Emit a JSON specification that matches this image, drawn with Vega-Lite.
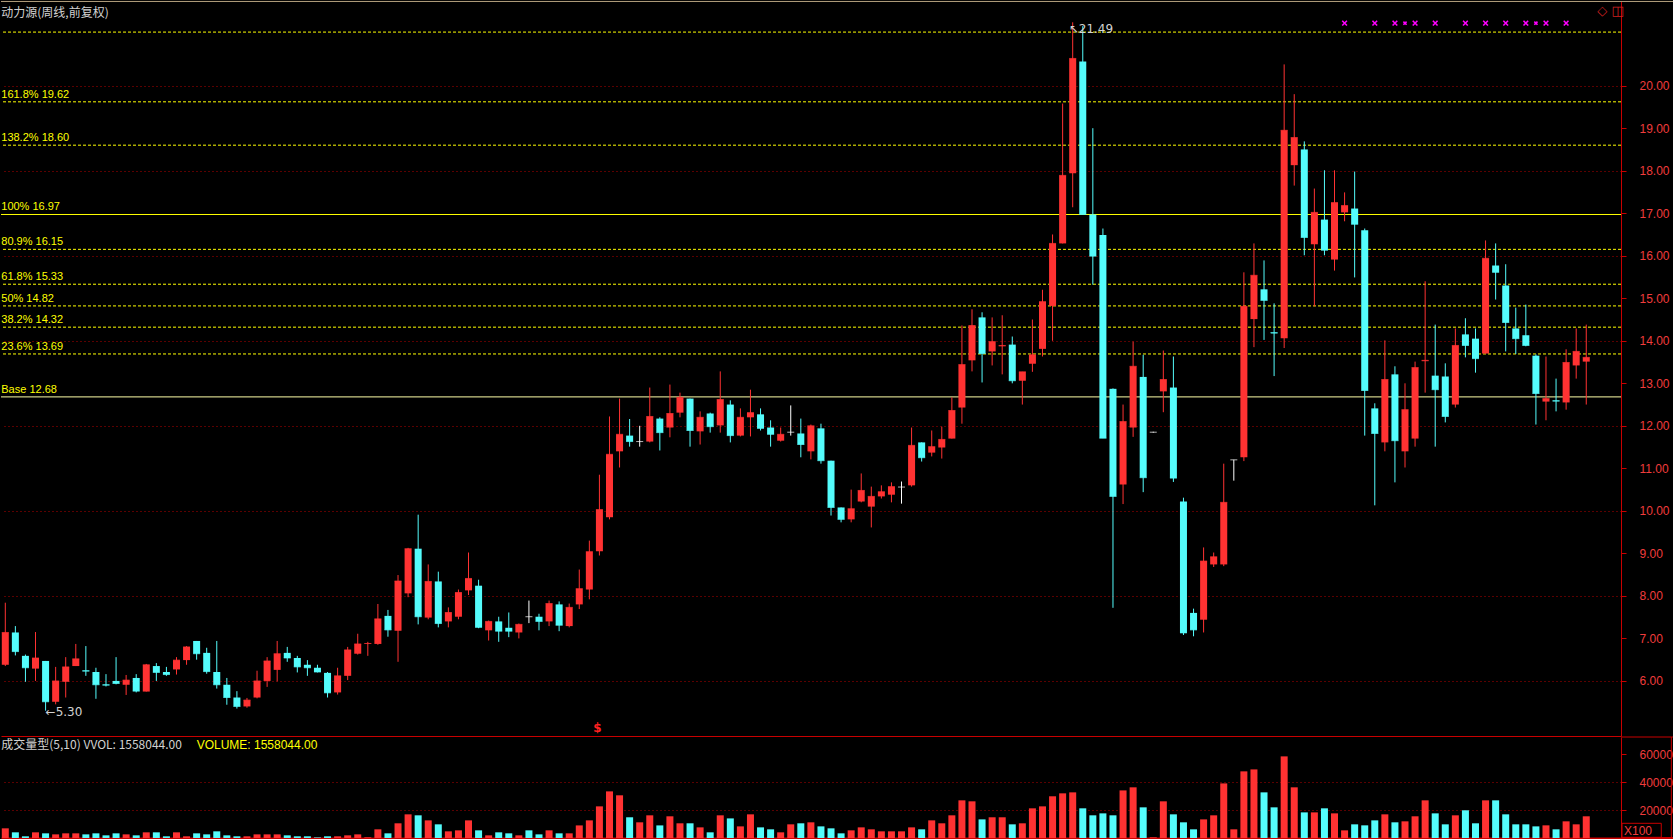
{
"$schema":"https://vega.github.io/schema/vega-lite/v6.json",
"background":"#000000",
"padding":0,
"spacing":0,
"config":{"view":{"stroke":null},"font":"Liberation Sans","scale":{"continuousPadding":0}},
"datasets":{
"k":[
{"i":0,"o":6.38,"h":7.84,"l":6.35,"c":7.14,"d":"up","v":6900,"vd":"up"},
{"i":1,"o":7.14,"h":7.29,"l":6.60,"c":6.69,"d":"down","v":4050,"vd":"down"},
{"i":2,"o":6.59,"h":6.62,"l":5.98,"c":6.31,"d":"down","v":1200,"vd":"down"},
{"i":3,"o":6.29,"h":7.15,"l":6.00,"c":6.54,"d":"up","v":4050,"vd":"up"},
{"i":4,"o":6.47,"h":6.47,"l":5.30,"c":5.51,"d":"down","v":3330,"vd":"down"},
{"i":5,"o":5.51,"h":6.33,"l":5.45,"c":6.00,"d":"up","v":2600,"vd":"up"},
{"i":6,"o":5.98,"h":6.56,"l":5.61,"c":6.33,"d":"up","v":3330,"vd":"up"},
{"i":7,"o":6.35,"h":6.87,"l":6.35,"c":6.52,"d":"up","v":3330,"vd":"up"},
{"i":8,"o":6.25,"h":6.82,"l":6.12,"c":6.23,"d":"down","v":2600,"vd":"down"},
{"i":9,"o":6.21,"h":6.31,"l":5.58,"c":5.91,"d":"down","v":3330,"vd":"down"},
{"i":10,"o":5.92,"h":6.16,"l":5.87,"c":5.90,"d":"down","v":1900,"vd":"down"},
{"i":11,"o":6.00,"h":6.56,"l":5.92,"c":5.94,"d":"down","v":3330,"vd":"down"},
{"i":12,"o":5.91,"h":6.14,"l":5.67,"c":6.02,"d":"up","v":2600,"vd":"up"},
{"i":13,"o":6.07,"h":6.16,"l":5.73,"c":5.76,"d":"down","v":1900,"vd":"down"},
{"i":14,"o":5.75,"h":6.40,"l":5.75,"c":6.38,"d":"up","v":4050,"vd":"up"},
{"i":15,"o":6.35,"h":6.42,"l":6.00,"c":6.20,"d":"down","v":4050,"vd":"down"},
{"i":16,"o":6.21,"h":6.33,"l":6.12,"c":6.15,"d":"down","v":1200,"vd":"down"},
{"i":17,"o":6.27,"h":6.56,"l":6.15,"c":6.49,"d":"up","v":4050,"vd":"up"},
{"i":18,"o":6.49,"h":6.82,"l":6.38,"c":6.80,"d":"up","v":1200,"vd":"up"},
{"i":19,"o":6.94,"h":6.94,"l":6.50,"c":6.64,"d":"down","v":3330,"vd":"down"},
{"i":20,"o":6.66,"h":6.78,"l":6.17,"c":6.22,"d":"down","v":2600,"vd":"down"},
{"i":21,"o":6.21,"h":6.94,"l":5.82,"c":5.91,"d":"down","v":4760,"vd":"down"},
{"i":22,"o":5.91,"h":6.07,"l":5.44,"c":5.61,"d":"down","v":1900,"vd":"down"},
{"i":23,"o":5.61,"h":5.76,"l":5.35,"c":5.40,"d":"down","v":1200,"vd":"down"},
{"i":24,"o":5.40,"h":5.60,"l":5.37,"c":5.55,"d":"up","v":1200,"vd":"up"},
{"i":25,"o":5.61,"h":6.24,"l":5.59,"c":6.00,"d":"up","v":2600,"vd":"up"},
{"i":26,"o":6.00,"h":6.56,"l":5.86,"c":6.47,"d":"up","v":2600,"vd":"up"},
{"i":27,"o":6.26,"h":6.94,"l":5.99,"c":6.64,"d":"up","v":2600,"vd":"up"},
{"i":28,"o":6.66,"h":6.80,"l":6.45,"c":6.54,"d":"down","v":1900,"vd":"down"},
{"i":29,"o":6.54,"h":6.59,"l":6.20,"c":6.33,"d":"down","v":1200,"vd":"down"},
{"i":30,"o":6.38,"h":6.49,"l":6.12,"c":6.31,"d":"down","v":1200,"vd":"down"},
{"i":31,"o":6.31,"h":6.38,"l":6.20,"c":6.21,"d":"down","v":400,"vd":"down"},
{"i":32,"o":6.19,"h":6.21,"l":5.61,"c":5.72,"d":"down","v":1200,"vd":"down"},
{"i":33,"o":5.73,"h":6.31,"l":5.68,"c":6.12,"d":"up","v":1200,"vd":"up"},
{"i":34,"o":6.12,"h":6.80,"l":6.02,"c":6.73,"d":"up","v":1900,"vd":"up"},
{"i":35,"o":6.64,"h":7.11,"l":6.62,"c":6.87,"d":"up","v":2600,"vd":"up"},
{"i":36,"o":6.87,"h":6.92,"l":6.59,"c":6.88,"d":"up","v":500,"vd":"up"},
{"i":37,"o":6.87,"h":7.81,"l":6.85,"c":7.46,"d":"up","v":6200,"vd":"up"},
{"i":38,"o":7.53,"h":7.67,"l":7.04,"c":7.20,"d":"down","v":3330,"vd":"down"},
{"i":39,"o":7.18,"h":8.49,"l":6.45,"c":8.35,"d":"up","v":10500,"vd":"up"},
{"i":40,"o":8.06,"h":9.13,"l":7.97,"c":9.11,"d":"up","v":16900,"vd":"up"},
{"i":41,"o":9.11,"h":9.91,"l":7.33,"c":7.51,"d":"down","v":16200,"vd":"down"},
{"i":42,"o":7.49,"h":8.74,"l":7.45,"c":8.34,"d":"up","v":12600,"vd":"up"},
{"i":43,"o":8.34,"h":8.57,"l":7.26,"c":7.35,"d":"down","v":9760,"vd":"down"},
{"i":44,"o":7.40,"h":7.73,"l":7.26,"c":7.61,"d":"up","v":4760,"vd":"up"},
{"i":45,"o":7.51,"h":8.15,"l":7.45,"c":8.08,"d":"up","v":5470,"vd":"up"},
{"i":46,"o":8.13,"h":9.02,"l":8.02,"c":8.41,"d":"up","v":12600,"vd":"up"},
{"i":47,"o":8.24,"h":8.38,"l":7.24,"c":7.26,"d":"down","v":5470,"vd":"down"},
{"i":48,"o":7.19,"h":7.42,"l":6.95,"c":7.40,"d":"up","v":1900,"vd":"up"},
{"i":49,"o":7.40,"h":7.51,"l":6.92,"c":7.17,"d":"down","v":4050,"vd":"down"},
{"i":50,"o":7.25,"h":7.61,"l":7.03,"c":7.17,"d":"down","v":3330,"vd":"down"},
{"i":51,"o":7.14,"h":7.35,"l":7.00,"c":7.33,"d":"up","v":1900,"vd":"up"},
{"i":52,"o":7.51,"h":7.89,"l":7.36,"c":7.51,"d":"flat","v":5470,"vd":"down"},
{"i":53,"o":7.51,"h":7.58,"l":7.19,"c":7.40,"d":"down","v":2600,"vd":"down"},
{"i":54,"o":7.40,"h":7.89,"l":7.29,"c":7.82,"d":"up","v":5470,"vd":"up"},
{"i":55,"o":7.80,"h":7.87,"l":7.17,"c":7.31,"d":"down","v":3330,"vd":"down"},
{"i":56,"o":7.29,"h":7.82,"l":7.26,"c":7.73,"d":"up","v":3330,"vd":"up"},
{"i":57,"o":7.80,"h":8.62,"l":7.69,"c":8.17,"d":"up","v":9000,"vd":"up"},
{"i":58,"o":8.15,"h":9.30,"l":7.92,"c":9.04,"d":"up","v":12600,"vd":"up"},
{"i":59,"o":9.05,"h":10.85,"l":8.95,"c":10.03,"d":"up","v":22600,"vd":"up"},
{"i":60,"o":9.85,"h":12.22,"l":9.80,"c":11.33,"d":"up","v":33300,"vd":"up"},
{"i":61,"o":11.40,"h":12.64,"l":11.02,"c":11.80,"d":"up","v":30500,"vd":"up"},
{"i":62,"o":11.77,"h":12.16,"l":11.51,"c":11.63,"d":"down","v":14800,"vd":"down"},
{"i":63,"o":11.63,"h":12.00,"l":11.51,"c":11.63,"d":"flat","v":11200,"vd":"up"},
{"i":64,"o":11.63,"h":12.90,"l":11.61,"c":12.22,"d":"up","v":16200,"vd":"up"},
{"i":65,"o":12.17,"h":12.20,"l":11.42,"c":11.84,"d":"down","v":9000,"vd":"down"},
{"i":66,"o":11.96,"h":12.97,"l":11.73,"c":12.29,"d":"up","v":15500,"vd":"up"},
{"i":67,"o":12.31,"h":12.78,"l":12.20,"c":12.67,"d":"up","v":10500,"vd":"up"},
{"i":68,"o":12.64,"h":12.64,"l":11.51,"c":11.89,"d":"down","v":10500,"vd":"down"},
{"i":69,"o":11.87,"h":12.34,"l":11.56,"c":12.20,"d":"up","v":7600,"vd":"up"},
{"i":70,"o":12.29,"h":12.31,"l":11.84,"c":11.98,"d":"down","v":4050,"vd":"down"},
{"i":71,"o":12.01,"h":13.28,"l":11.84,"c":12.62,"d":"up","v":16200,"vd":"up"},
{"i":72,"o":12.50,"h":12.60,"l":11.61,"c":11.77,"d":"down","v":14000,"vd":"down"},
{"i":73,"o":11.77,"h":12.41,"l":11.75,"c":12.20,"d":"up","v":8300,"vd":"up"},
{"i":74,"o":12.20,"h":12.85,"l":11.75,"c":12.31,"d":"up","v":16900,"vd":"up"},
{"i":75,"o":12.27,"h":12.41,"l":11.89,"c":11.94,"d":"down","v":7600,"vd":"down"},
{"i":76,"o":11.96,"h":12.13,"l":11.51,"c":11.80,"d":"down","v":6200,"vd":"down"},
{"i":77,"o":11.65,"h":11.96,"l":11.63,"c":11.80,"d":"up","v":4050,"vd":"up"},
{"i":78,"o":11.85,"h":12.48,"l":11.77,"c":11.85,"d":"flat","v":9760,"vd":"up"},
{"i":79,"o":11.82,"h":12.17,"l":11.26,"c":11.56,"d":"down","v":10500,"vd":"down"},
{"i":80,"o":11.40,"h":12.03,"l":11.21,"c":12.00,"d":"up","v":11200,"vd":"up"},
{"i":81,"o":11.94,"h":12.05,"l":11.11,"c":11.18,"d":"down","v":8300,"vd":"down"},
{"i":82,"o":11.18,"h":11.18,"l":9.89,"c":10.08,"d":"down","v":6900,"vd":"down"},
{"i":83,"o":10.08,"h":10.08,"l":9.73,"c":9.80,"d":"down","v":3330,"vd":"down"},
{"i":84,"o":9.80,"h":10.50,"l":9.73,"c":10.05,"d":"up","v":5470,"vd":"up"},
{"i":85,"o":10.22,"h":10.88,"l":10.20,"c":10.48,"d":"up","v":7600,"vd":"up"},
{"i":86,"o":10.10,"h":10.57,"l":9.61,"c":10.34,"d":"up","v":6200,"vd":"up"},
{"i":87,"o":10.34,"h":10.60,"l":10.29,"c":10.45,"d":"up","v":4760,"vd":"up"},
{"i":88,"o":10.38,"h":10.67,"l":10.20,"c":10.57,"d":"up","v":4760,"vd":"up"},
{"i":89,"o":10.56,"h":10.69,"l":10.17,"c":10.56,"d":"flat","v":4760,"vd":"up"},
{"i":90,"o":10.60,"h":11.96,"l":10.57,"c":11.54,"d":"up","v":7600,"vd":"up"},
{"i":91,"o":11.61,"h":11.61,"l":11.16,"c":11.25,"d":"down","v":6200,"vd":"down"},
{"i":92,"o":11.37,"h":11.89,"l":11.28,"c":11.51,"d":"up","v":12600,"vd":"up"},
{"i":93,"o":11.49,"h":11.98,"l":11.23,"c":11.68,"d":"up","v":10500,"vd":"up"},
{"i":94,"o":11.70,"h":12.67,"l":11.70,"c":12.36,"d":"up","v":16200,"vd":"up"},
{"i":95,"o":12.43,"h":14.36,"l":12.05,"c":13.44,"d":"up","v":26900,"vd":"up"},
{"i":96,"o":13.54,"h":14.74,"l":13.28,"c":14.36,"d":"up","v":26200,"vd":"up"},
{"i":97,"o":14.55,"h":14.67,"l":13.02,"c":13.70,"d":"down","v":13300,"vd":"down"},
{"i":98,"o":13.75,"h":14.55,"l":13.42,"c":13.98,"d":"up","v":14800,"vd":"up"},
{"i":99,"o":13.87,"h":14.60,"l":13.21,"c":13.89,"d":"up","v":14800,"vd":"up"},
{"i":100,"o":13.91,"h":14.10,"l":13.00,"c":13.06,"d":"down","v":9760,"vd":"down"},
{"i":101,"o":13.06,"h":13.27,"l":12.50,"c":13.27,"d":"up","v":10500,"vd":"up"},
{"i":102,"o":13.46,"h":14.50,"l":13.27,"c":13.67,"d":"up","v":21200,"vd":"up"},
{"i":103,"o":13.81,"h":15.20,"l":13.63,"c":14.92,"d":"up","v":22600,"vd":"up"},
{"i":104,"o":14.82,"h":16.50,"l":14.00,"c":16.29,"d":"up","v":29800,"vd":"up"},
{"i":105,"o":16.29,"h":19.58,"l":16.29,"c":17.89,"d":"up","v":31900,"vd":"up"},
{"i":106,"o":17.94,"h":21.49,"l":17.14,"c":20.64,"d":"up","v":32600,"vd":"up"},
{"i":107,"o":20.57,"h":21.40,"l":16.97,"c":16.97,"d":"down","v":21200,"vd":"down"},
{"i":108,"o":16.97,"h":19.00,"l":15.32,"c":15.99,"d":"down","v":16200,"vd":"down"},
{"i":109,"o":16.49,"h":16.64,"l":11.71,"c":11.71,"d":"down","v":17600,"vd":"down"},
{"i":110,"o":12.87,"h":12.88,"l":7.72,"c":10.34,"d":"down","v":16200,"vd":"down"},
{"i":111,"o":10.62,"h":12.50,"l":10.16,"c":12.10,"d":"up","v":34000,"vd":"up"},
{"i":112,"o":11.96,"h":13.98,"l":11.74,"c":13.40,"d":"up","v":36200,"vd":"up"},
{"i":113,"o":13.15,"h":13.67,"l":10.44,"c":10.78,"d":"down","v":21900,"vd":"down"},
{"i":114,"o":11.85,"h":11.86,"l":11.84,"c":11.85,"d":"flat","v":500,"vd":"up"},
{"i":115,"o":12.81,"h":13.77,"l":12.32,"c":13.09,"d":"up","v":26200,"vd":"up"},
{"i":116,"o":12.90,"h":13.63,"l":10.68,"c":10.77,"d":"down","v":16900,"vd":"down"},
{"i":117,"o":10.22,"h":10.31,"l":7.08,"c":7.13,"d":"down","v":11200,"vd":"down"},
{"i":118,"o":7.60,"h":7.70,"l":7.05,"c":7.20,"d":"down","v":6200,"vd":"down"},
{"i":119,"o":7.44,"h":9.14,"l":7.14,"c":8.82,"d":"up","v":13300,"vd":"up"},
{"i":120,"o":8.74,"h":9.02,"l":8.68,"c":8.92,"d":"up","v":16200,"vd":"up"},
{"i":121,"o":8.74,"h":11.11,"l":8.70,"c":10.20,"d":"up","v":39000,"vd":"up"},
{"i":122,"o":11.20,"h":11.20,"l":10.71,"c":11.20,"d":"flat","v":6200,"vd":"up"},
{"i":123,"o":11.26,"h":15.61,"l":11.17,"c":14.81,"d":"up","v":47600,"vd":"up"},
{"i":124,"o":14.51,"h":16.29,"l":13.85,"c":15.54,"d":"up","v":49000,"vd":"up"},
{"i":125,"o":15.21,"h":15.89,"l":14.02,"c":14.95,"d":"down","v":32600,"vd":"down"},
{"i":126,"o":14.20,"h":14.88,"l":13.17,"c":14.18,"d":"down","v":21900,"vd":"down"},
{"i":127,"o":14.06,"h":20.50,"l":13.83,"c":18.95,"d":"up","v":58300,"vd":"up"},
{"i":128,"o":18.13,"h":19.80,"l":17.65,"c":18.78,"d":"up","v":36200,"vd":"up"},
{"i":129,"o":18.50,"h":18.69,"l":16.01,"c":16.43,"d":"down","v":18300,"vd":"down"},
{"i":130,"o":16.27,"h":17.58,"l":14.81,"c":17.02,"d":"up","v":18300,"vd":"up"},
{"i":131,"o":16.85,"h":18.01,"l":16.01,"c":16.13,"d":"down","v":21200,"vd":"down"},
{"i":132,"o":15.91,"h":18.01,"l":15.65,"c":17.25,"d":"up","v":17600,"vd":"up"},
{"i":133,"o":17.02,"h":17.49,"l":16.81,"c":17.18,"d":"up","v":5470,"vd":"up"},
{"i":134,"o":17.11,"h":17.98,"l":15.49,"c":16.74,"d":"down","v":9760,"vd":"down"},
{"i":135,"o":16.60,"h":16.64,"l":11.77,"c":12.83,"d":"down","v":9040,"vd":"down"},
{"i":136,"o":12.41,"h":12.53,"l":10.13,"c":11.82,"d":"down","v":12600,"vd":"down"},
{"i":137,"o":11.61,"h":14.01,"l":11.40,"c":13.09,"d":"up","v":16900,"vd":"up"},
{"i":138,"o":13.21,"h":13.40,"l":10.67,"c":11.65,"d":"down","v":11200,"vd":"down"},
{"i":139,"o":11.40,"h":13.00,"l":11.02,"c":12.38,"d":"up","v":11900,"vd":"up"},
{"i":140,"o":11.70,"h":13.51,"l":11.51,"c":13.37,"d":"up","v":15500,"vd":"up"},
{"i":141,"o":13.52,"h":15.40,"l":12.78,"c":13.54,"d":"up","v":26900,"vd":"up"},
{"i":142,"o":13.18,"h":14.38,"l":11.51,"c":12.85,"d":"down","v":17600,"vd":"down"},
{"i":143,"o":13.16,"h":13.47,"l":12.08,"c":12.22,"d":"down","v":9760,"vd":"down"},
{"i":144,"o":12.50,"h":14.29,"l":12.43,"c":13.89,"d":"up","v":16200,"vd":"up"},
{"i":145,"o":14.15,"h":14.53,"l":13.61,"c":13.89,"d":"down","v":19800,"vd":"down"},
{"i":146,"o":14.05,"h":14.29,"l":13.25,"c":13.58,"d":"down","v":10500,"vd":"down"},
{"i":147,"o":13.70,"h":16.36,"l":13.70,"c":15.94,"d":"up","v":26900,"vd":"up"},
{"i":148,"o":15.77,"h":16.29,"l":14.97,"c":15.61,"d":"down","v":26900,"vd":"down"},
{"i":149,"o":15.30,"h":15.80,"l":13.75,"c":14.43,"d":"down","v":16900,"vd":"down"},
{"i":150,"o":14.29,"h":14.78,"l":13.69,"c":14.05,"d":"down","v":9760,"vd":"down"},
{"i":151,"o":14.13,"h":14.85,"l":13.87,"c":13.89,"d":"down","v":9760,"vd":"down"},
{"i":152,"o":13.65,"h":13.68,"l":12.03,"c":12.76,"d":"down","v":8300,"vd":"down"},
{"i":153,"o":12.57,"h":13.63,"l":12.13,"c":12.64,"d":"up","v":9040,"vd":"up"},
{"i":154,"o":12.60,"h":13.11,"l":12.34,"c":12.58,"d":"down","v":6200,"vd":"down"},
{"i":155,"o":12.55,"h":13.80,"l":12.38,"c":13.49,"d":"up","v":11900,"vd":"up"},
{"i":156,"o":13.42,"h":14.29,"l":13.11,"c":13.75,"d":"up","v":9760,"vd":"up"},
{"i":157,"o":13.51,"h":14.38,"l":12.50,"c":13.61,"d":"up","v":15500,"vd":"up"}
],
"fib":[
{"lv":21.26,"lab":"","st":"dash"},
{"lv":19.62,"lab":"161.8% 19.62","st":"dash"},
{"lv":18.60,"lab":"138.2% 18.60","st":"dash"},
{"lv":16.97,"lab":"100% 16.97","st":"solid"},
{"lv":16.15,"lab":"80.9% 16.15","st":"dash"},
{"lv":15.33,"lab":"61.8% 15.33","st":"dash"},
{"lv":14.82,"lab":"50% 14.82","st":"dash"},
{"lv":14.32,"lab":"38.2% 14.32","st":"dash"},
{"lv":13.69,"lab":"23.6% 13.69","st":"dash"},
{"lv":12.68,"lab":"Base 12.68","st":"base"}
],
"sig":[
{"i":133,"s":"big"},{"i":136,"s":"big"},{"i":138,"s":"big"},{"i":139,"s":"small"},{"i":140,"s":"big"},{"i":142,"s":"big"},{"i":145,"s":"big"},{"i":147,"s":"big"},{"i":149,"s":"big"},{"i":151,"s":"big"},{"i":152,"s":"small"},{"i":153,"s":"big"},{"i":155,"s":"big"}
]
},
"vconcat":[
{
"width":1620,"height":735,
"layer":[
{"data":{"name":"fib"},"transform":[{"filter":"datum.st == 'dash'"}],
 "mark":{"type":"rule","color":"#FFFF00","strokeWidth":1,"strokeDash":[3,2]},
 "encoding":{"y":{"field":"lv","type":"quantitative","title":null,"scale":{"domain":[4.705,21.991],"nice":false,"zero":false,"padding":0},
   "axis":{"orient":"right","values":[6,7,8,9,10,11,12,13,14,15,16,17,18,19,20],"format":".2f","labelColor":"#F03C3C","labelFontSize":12,"labelFont":"Liberation Sans","labelPadding":13,"tickColor":"#C80000","tickSize":5,"domainColor":"#C80000","grid":true,"gridColor":"#B40000","gridDash":[1,3],"gridOpacity":{"condition":{"test":"datum.value % 2 === 0","value":1},"value":0}}}}},
{"data":{"name":"fib"},"transform":[{"filter":"datum.st == 'solid'"}],
 "mark":{"type":"rule","color":"#FFFF00","strokeWidth":1},
 "encoding":{"y":{"field":"lv","type":"quantitative","title":null}}},
{"data":{"name":"fib"},"transform":[{"filter":"datum.st == 'base'"}],
 "mark":{"type":"rule","color":"#FFFFA8","strokeWidth":1},
 "encoding":{"y":{"field":"lv","type":"quantitative","title":null}}},
{"data":{"name":"fib"},
 "mark":{"type":"text","color":"#FFFF00","align":"left","baseline":"bottom","dy":-2,"fontSize":11,"font":"Liberation Sans"},
 "encoding":{"x":{"datum":-0.4,"type":"quantitative"},"y":{"field":"lv","type":"quantitative","title":null},"text":{"field":"lab"}}},
{"data":{"values":[{}]},
 "mark":{"type":"rule","color":"#B4A07E","strokeWidth":1},
 "encoding":{"x":{"datum":-0.427,"type":"quantitative"},"x2":{"datum":165.8},"y":{"datum":21.98,"type":"quantitative"}}},
{"data":{"name":"k"},
 "mark":{"type":"rule","strokeWidth":1},
 "encoding":{"x":{"field":"i","type":"quantitative","title":null,"scale":{"domain":[-0.427,160.45],"nice":false,"zero":false,"padding":0},
   "axis":{"orient":"bottom","labels":false,"ticks":false,"grid":false,"domainColor":"#C80000","domainWidth":1}},
  "y":{"field":"l","type":"quantitative","title":null},"y2":{"field":"h"},
  "color":{"field":"d","type":"nominal","scale":{"domain":["up","down","flat"],"range":["#FF3232","#54FCFC","#FFFFFF"]},"legend":null}}},
{"data":{"name":"k"},
 "mark":{"type":"bar","size":7,"orient":"vertical"},
 "encoding":{"x":{"field":"i","type":"quantitative","title":null},
  "y":{"field":"o","type":"quantitative","title":null},"y2":{"field":"c"},
  "color":{"field":"d","type":"nominal","legend":null}}},
{"data":{"name":"k"},
 "mark":{"type":"tick","orient":"horizontal","size":7,"thickness":1},
 "encoding":{"x":{"field":"i","type":"quantitative","title":null},
  "y":{"field":"c","type":"quantitative","title":null},
  "color":{"field":"d","type":"nominal","legend":null}}},
{"data":{"name":"sig"},
 "mark":{"type":"point","shape":"M-1,-1L1,1M1,-1L-1,1","filled":false,"color":"#FF00FF","strokeWidth":1.6,"opacity":1},
 "encoding":{"x":{"field":"i","type":"quantitative","title":null},"y":{"datum":21.47,"type":"quantitative"},
  "size":{"field":"s","type":"nominal","scale":{"domain":["big","small"],"range":[22,10]},"legend":null}}},
{"data":{"values":[{}]},
 "mark":{"type":"text","text":"动力源(周线,前复权)","color":"#D2D2D2","align":"left","baseline":"middle","fontSize":12,"font":"Noto Sans CJK SC"},
 "encoding":{"x":{"datum":-0.4,"type":"quantitative"},"y":{"datum":21.72,"type":"quantitative"}}},
{"data":{"values":[{}]},
 "mark":{"type":"text","text":"←5.30","color":"#D2D2D2","align":"left","baseline":"middle","fontSize":12,"font":"DejaVu Sans"},
 "encoding":{"x":{"datum":4,"type":"quantitative"},"y":{"datum":5.27,"type":"quantitative"}}},
{"data":{"values":[{}]},
 "mark":{"type":"text","text":"↖21.49","color":"#D2D2D2","align":"left","baseline":"middle","fontSize":12,"font":"DejaVu Sans","dx":-4},
 "encoding":{"x":{"datum":106,"type":"quantitative"},"y":{"datum":21.33,"type":"quantitative"}}},
{"data":{"values":[{}]},
 "mark":{"type":"text","text":"$","color":"#FF2020","align":"center","baseline":"bottom","fontSize":12,"fontWeight":"bold","font":"DejaVu Sans"},
 "encoding":{"x":{"datum":58.8,"type":"quantitative"},"y":{"datum":4.72,"type":"quantitative"}}},
{"data":{"values":[{}]},
 "mark":{"type":"text","text":"◇ ◫","color":"#D02020","align":"left","baseline":"middle","fontSize":13,"font":"DejaVu Sans"},
 "encoding":{"x":{"datum":158.1,"type":"quantitative"},"y":{"datum":21.75,"type":"quantitative"}}}
]
},
{
"width":1620,"height":101,
"layer":[
{"data":{"name":"k"},
 "mark":{"type":"bar","size":7},
 "encoding":{"x":{"field":"i","type":"quantitative","title":null,"scale":{"domain":[-0.427,160.45],"nice":false,"zero":false,"padding":0},
   "axis":{"orient":"bottom","labels":false,"ticks":false,"grid":false,"domainColor":"#C80000","domainWidth":2}},
  "y":{"field":"v","type":"quantitative","title":null,"scale":{"domain":[0,72143],"nice":false,"padding":0},
   "axis":{"orient":"right","values":[20000,40000,60000],"format":"d","labelColor":"#F03C3C","labelFontSize":12,"labelFont":"Liberation Sans","labelPadding":13,"tickColor":"#C80000","tickSize":5,"domainColor":"#C80000","grid":true,"gridColor":"#B40000","gridDash":[1,3],"gridOpacity":{"condition":{"test":"datum.value < 50000","value":1},"value":0}}},
  "color":{"field":"vd","type":"nominal","scale":{"domain":["up","down"],"range":["#FF3232","#54FCFC"]},"legend":null}}},
{"data":{"values":[{}]},
 "mark":{"type":"rule","color":"#C80000","strokeWidth":1},
 "encoding":{"x":{"datum":160.45,"type":"quantitative"},"x2":{"datum":165.8},"y":{"datum":72143,"type":"quantitative"}}},
{"data":{"values":[{}]},
 "mark":{"type":"rule","color":"#C80000","strokeWidth":2},
 "encoding":{"x":{"datum":160.45,"type":"quantitative"},"x2":{"datum":165.8},"y":{"datum":0,"type":"quantitative"}}},
{"data":{"values":[{}]},
 "mark":{"type":"rule","color":"#C80000","strokeWidth":1},
 "encoding":{"x":{"datum":165.45,"type":"quantitative"},"y":{"datum":0,"type":"quantitative"},"y2":{"datum":72143}}},
{"data":{"values":[{}]},
 "mark":{"type":"rect","fill":null,"stroke":"#C80000","strokeWidth":1},
 "encoding":{"x":{"datum":160.55,"type":"quantitative"},"x2":{"datum":164.45},"y":{"datum":500,"type":"quantitative"},"y2":{"datum":10500}}},
{"data":{"values":[{}]},
 "mark":{"type":"text","text":"成交量型(5,10) VVOL: 1558044.00","color":"#D2D2D2","align":"left","baseline":"middle","fontSize":12,"font":"Noto Sans CJK SC"},
 "encoding":{"x":{"datum":-0.4,"type":"quantitative"},"y":{"datum":66500,"type":"quantitative"}}},
{"data":{"values":[{}]},
 "mark":{"type":"text","text":"VOLUME: 1558044.00","color":"#FFFF00","align":"left","baseline":"middle","fontSize":12,"font":"Liberation Sans"},
 "encoding":{"x":{"datum":19.0,"type":"quantitative"},"y":{"datum":66500,"type":"quantitative"}}},
{"data":{"values":[{}]},
 "mark":{"type":"text","text":"X100","color":"#F03C3C","align":"left","baseline":"middle","fontSize":12,"font":"Liberation Sans"},
 "encoding":{"x":{"datum":160.75,"type":"quantitative"},"y":{"datum":5300,"type":"quantitative"}}}
]
}
]
}
